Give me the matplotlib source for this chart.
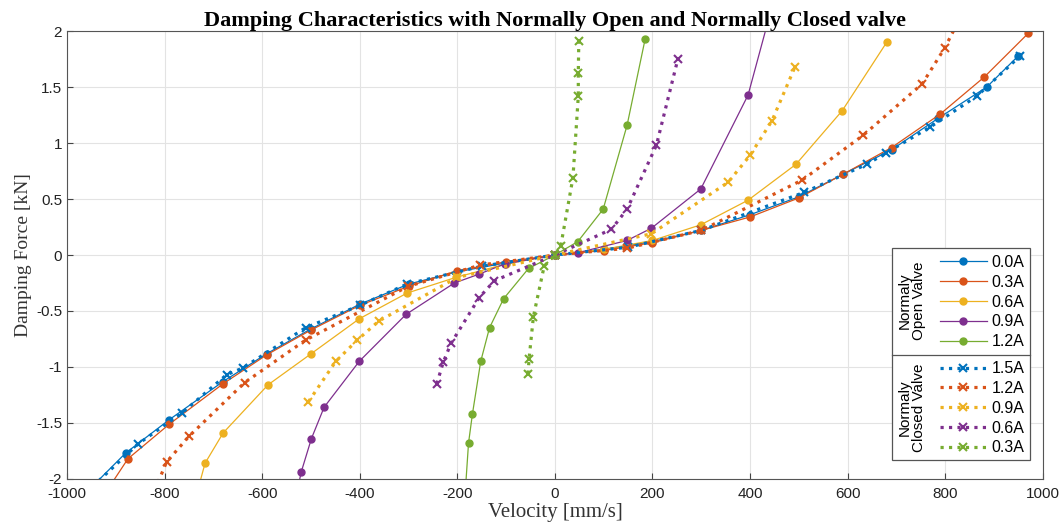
import matplotlib
matplotlib.use("Agg")
import matplotlib.pyplot as plt
from matplotlib.patches import Rectangle
from matplotlib.lines import Line2D

# Normally open valve (solid lines, circle markers)
v_open_00 = [-960, -880, -790, -680, -590, -500, -400, -300, -200, -100, 0, 100, 200, 300, 400, 500, 590, 690, 785, 885, 950]
f_open_00 = [-2.12, -1.77, -1.47, -1.13, -0.88, -0.66, -0.44, -0.26, -0.15, -0.07, 0, 0.05, 0.12, 0.22, 0.36, 0.52, 0.72, 0.94, 1.22, 1.50, 1.78]

v_open_03 = [-925, -875, -790, -680, -590, -500, -400, -300, -200, -100, 0, 100, 200, 300, 400, 500, 590, 690, 790, 880, 970]
f_open_03 = [-2.15, -1.82, -1.51, -1.15, -0.89, -0.67, -0.45, -0.28, -0.14, -0.06, 0, 0.04, 0.11, 0.22, 0.34, 0.51, 0.72, 0.96, 1.26, 1.59, 1.98]

v_open_06 = [-735, -717, -680, -588, -499, -401, -303, -203, -100, 0, 100, 200, 299, 396, 494, 589, 680]
f_open_06 = [-2.15, -1.86, -1.59, -1.16, -0.88, -0.57, -0.34, -0.20, -0.08, 0, 0.05, 0.13, 0.27, 0.49, 0.81, 1.29, 1.90]

v_open_09 = [-530, -520, -499, -473, -401, -305, -206, -155, -103, 0, 47, 148, 198, 299, 396, 450]
f_open_09 = [-2.15, -1.94, -1.64, -1.36, -0.95, -0.53, -0.25, -0.17, -0.08, 0, 0.02, 0.13, 0.24, 0.59, 1.43, 2.3]

v_open_12 = [-185, -177, -169, -152, -134, -105, -54, 0, 47, 99, 148, 185]
f_open_12 = [-2.2, -1.68, -1.42, -0.95, -0.65, -0.39, -0.12, 0, 0.12, 0.41, 1.16, 1.93]

# Normally closed valve (dotted lines, x markers)
v_closed_15 = [-960, -855, -764, -673, -640, -511, -400, -303, -150, 0, 150, 300, 511, 639, 678, 768, 865, 954]
f_closed_15 = [-2.12, -1.69, -1.41, -1.07, -1.01, -0.65, -0.45, -0.26, -0.10, 0, 0.07, 0.22, 0.56, 0.81, 0.91, 1.14, 1.42, 1.78]

v_closed_12 = [-820, -796, -750, -636, -511, -301, -153, 0, 148, 300, 507, 632, 753, 799, 840]
f_closed_12 = [-2.1, -1.85, -1.62, -1.14, -0.76, -0.28, -0.09, 0, 0.06, 0.22, 0.67, 1.07, 1.53, 1.85, 2.2]

v_closed_09 = [-505, -449, -405, -361, -200, 0, 198, 355, 400, 445, 492]
f_closed_09 = [-1.31, -0.95, -0.76, -0.59, -0.20, 0, 0.19, 0.65, 0.89, 1.20, 1.68]

v_closed_06 = [-242, -229, -213, -155, -124, 0, 116, 148, 208, 252]
f_closed_06 = [-1.15, -0.96, -0.79, -0.38, -0.23, 0, 0.23, 0.41, 0.98, 1.75]

v_closed_03 = [-55, -53, -44, -22, 0, 12, 37, 48, 48, 49]
f_closed_03 = [-1.06, -0.93, -0.55, -0.10, 0, 0.08, 0.69, 1.42, 1.63, 1.91]

open_labels = ["0.0A", "0.3A", "0.6A", "0.9A", "1.2A"]
closed_labels = ["1.5A", "1.2A", "0.9A", "0.6A", "0.3A"]

colors = ["#0072BD", "#D95319", "#EDB120", "#7E2F8E", "#77AC30"]

open_data = [(v_open_00, f_open_00), (v_open_03, f_open_03), (v_open_06, f_open_06),
             (v_open_09, f_open_09), (v_open_12, f_open_12)]
closed_data = [(v_closed_15, f_closed_15), (v_closed_12, f_closed_12), (v_closed_09, f_closed_09),
               (v_closed_06, f_closed_06), (v_closed_03, f_closed_03)]

plt.rcParams['font.family'] = ['Liberation Sans', 'DejaVu Sans']
plt.rcParams['axes.unicode_minus'] = False

fig = plt.figure(figsize=(10.63, 5.28), dpi=100)
ax = fig.add_axes([0.063, 0.093, 0.918, 0.848])

open_handles = []
for (v, f), c, lab in zip(open_data, colors, open_labels):
    h, = ax.plot(v, f, '-', color=c, lw=0.9, marker='o', ms=5, label=lab)
    open_handles.append(h)

closed_handles = []
for (v, f), c, lab in zip(closed_data, colors, closed_labels):
    h, = ax.plot(v, f, ':', color=c, lw=2.3, marker='x', ms=6, mew=1.5, label=lab)
    closed_handles.append(h)

ax.set_xlim(-1000, 1000)
ax.set_ylim(-2, 2)
ax.set_xticks(range(-1000, 1001, 200))
ax.set_yticks([-2, -1.5, -1, -0.5, 0, 0.5, 1, 1.5, 2])
ax.set_yticklabels(['-2', '-1.5', '-1', '-0.5', '0', '0.5', '1', '1.5', '2'])
ax.grid(True, color='#e3e3e3', lw=0.8)
ax.set_axisbelow(True)
ax.tick_params(labelsize=11, direction='in', length=4, color='#444444', labelcolor='#222222')
ax.tick_params(axis='x', pad=6)
for s in ax.spines.values():
    s.set_color('#555555')

ax.set_title('Damping Characteristics with Normally Open and Normally Closed valve',
             fontfamily='Liberation Serif', fontweight='bold', fontsize=16, pad=2)
ax.set_xlabel('Velocity [mm/s]', fontfamily='Liberation Serif', fontsize=15, labelpad=1, color='#333333')
ax.set_ylabel('Damping Force [kN]', fontfamily='Liberation Serif', fontsize=14, labelpad=3, color='#333333')

# custom two-group legend
box = Rectangle((0.845, 0.042), 0.142, 0.474, transform=ax.transAxes,
                facecolor='white', edgecolor='#555555', lw=0.9, zorder=5)
ax.add_patch(box)
ax.add_line(Line2D([0.845, 0.987], [0.277, 0.277], transform=ax.transAxes,
                   color='#555555', lw=0.9, zorder=6))

leg_kw = dict(loc='upper left', frameon=False, fontsize=11.5, borderpad=0.45,
              handlelength=2.95, handletextpad=0.3, labelspacing=0.3, borderaxespad=0)
leg1 = ax.legend(handles=open_handles, bbox_to_anchor=(0.887, 0.516), **leg_kw)
leg1.set_zorder(7)
ax.add_artist(leg1)
leg2 = ax.legend(handles=closed_handles, bbox_to_anchor=(0.887, 0.279), **leg_kw)
leg2.set_zorder(7)

ax.text(0.866, 0.397, 'Normaly\nOpen Valve', transform=ax.transAxes, rotation=90,
        ha='center', va='center', fontsize=11, zorder=8, linespacing=1.05)
ax.text(0.866, 0.160, 'Normaly\nClosed Valve', transform=ax.transAxes, rotation=90,
        ha='center', va='center', fontsize=11, zorder=8, linespacing=1.05)

fig.savefig('out.png', dpi=100)
